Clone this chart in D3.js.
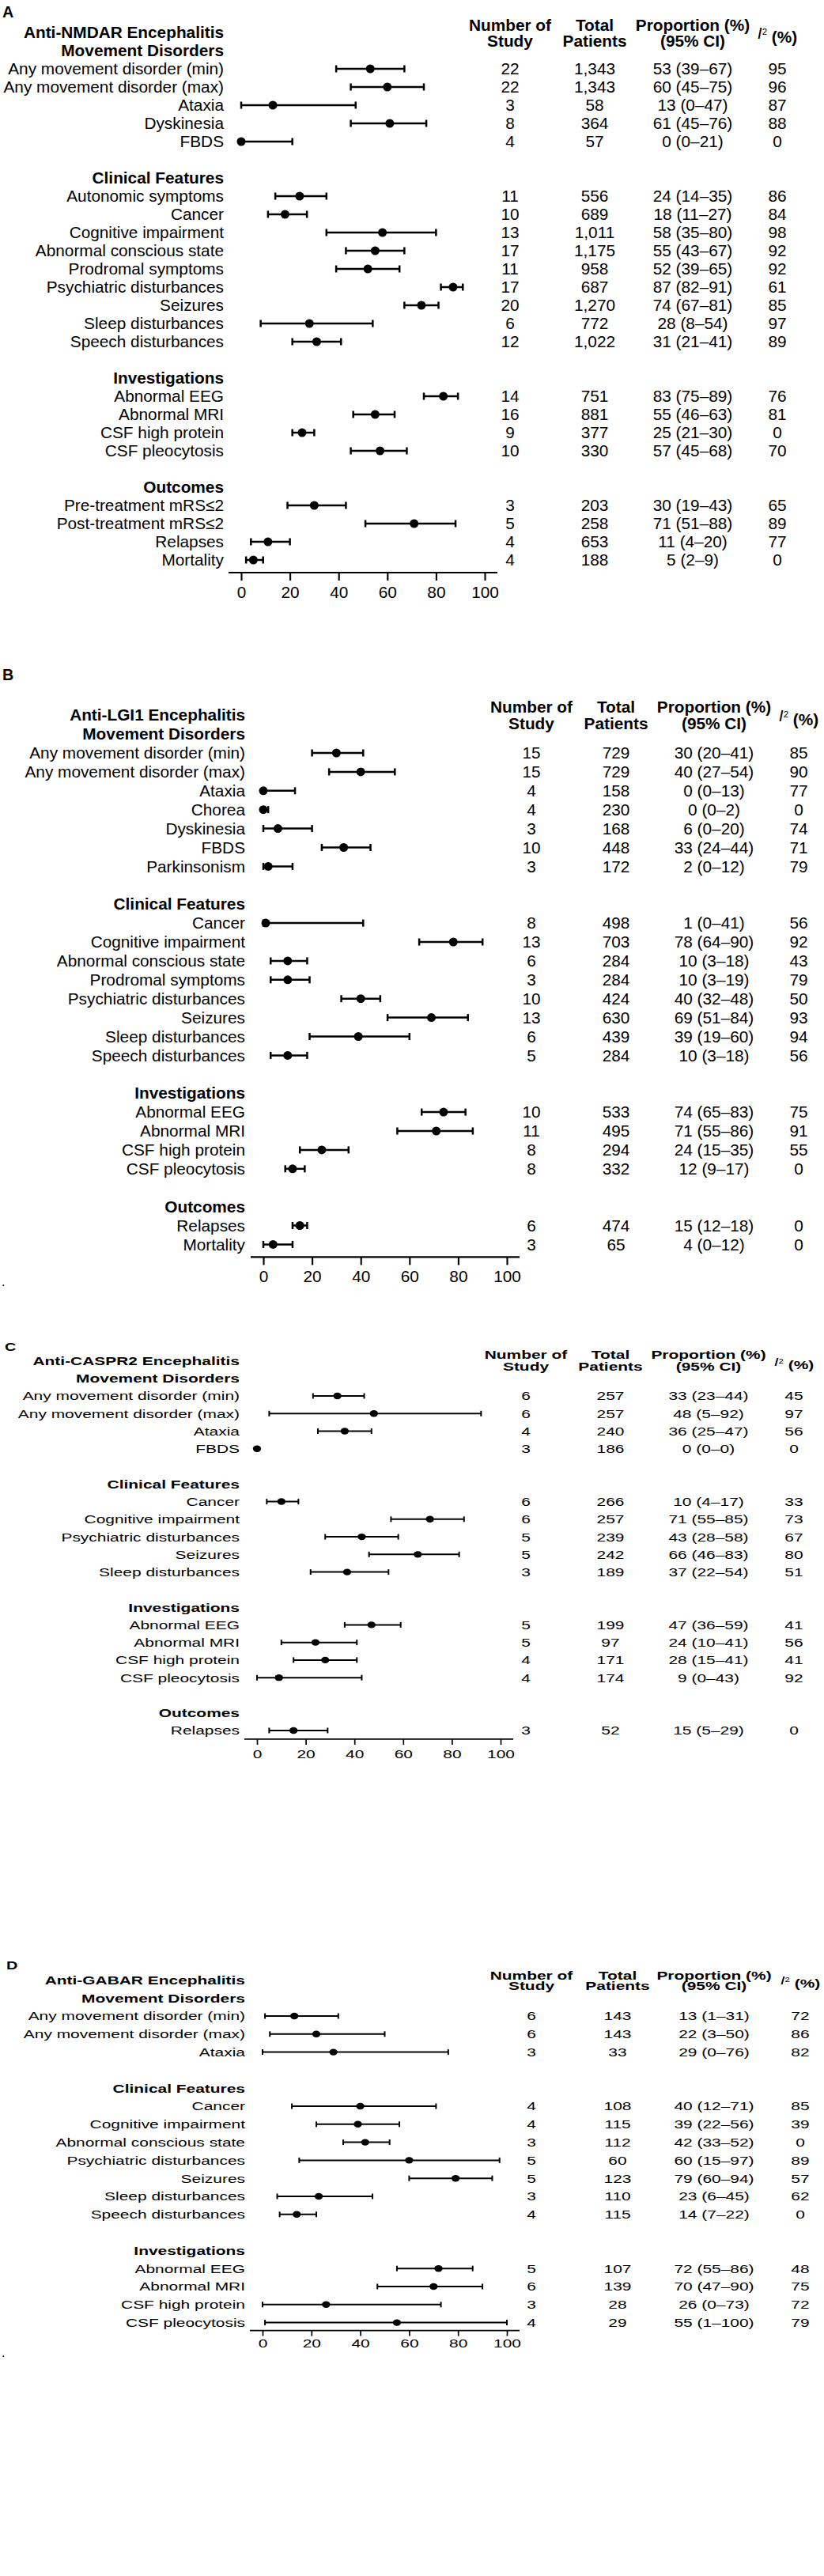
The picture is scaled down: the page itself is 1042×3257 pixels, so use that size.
<!DOCTYPE html>
<meta charset="utf-8">
<head>
    <script type="text/javascript" src="https://cdn.jsdelivr.net/npm/d3@7"></script>
    <style>
        body { margin: 0; background: #fff; }
        text { font-family: "Liberation Sans", Arial, Helvetica, sans-serif; fill: #000; }
        .bold { font-weight: bold; }
    </style>
</head>
<body>
<div id="chart"></div>
<script>
// groups used in every panel (in this order)
var groupNames = ["Movement Disorders", "Clinical Features", "Investigations", "Outcomes"];
var tickValues = [0, 20, 40, 60, 80, 100];

// A - anti-NMDAR
var nmdarSizes = [5, 9, 4, 4];
var nmdarItems = ["Any movement disorder (min)", "Any movement disorder (max)", "Ataxia", "Dyskinesia", "FBDS",
    "Autonomic symptoms", "Cancer", "Cognitive impairment", "Abnormal conscious state", "Prodromal symptoms",
    "Psychiatric disturbances", "Seizures", "Sleep disturbances", "Speech disturbances",
    "Abnormal EEG", "Abnormal MRI", "CSF high protein", "CSF pleocytosis",
    "Pre-treatment mRS\u22642", "Post-treatment mRS\u22642", "Relapses", "Mortality"];
var nmdarStudies = [22, 22, 3, 8, 4, 11, 10, 13, 17, 11, 17, 20, 6, 12, 14, 16, 9, 10, 3, 5, 4, 4];
var nmdarPatients = [1343, 1343, 58, 364, 57, 556, 689, 1011, 1175, 958, 687, 1270, 772, 1022, 751, 881, 377, 330, 203, 258, 653, 188];
var nmdarEst = [53, 60, 13, 61, 0, 24, 18, 58, 55, 52, 87, 74, 28, 31, 83, 55, 25, 57, 30, 71, 11, 5];
var nmdarLo = [39, 45, 0, 45, 0, 14, 11, 35, 43, 39, 82, 67, 8, 21, 75, 46, 21, 45, 19, 51, 4, 2];
var nmdarHi = [67, 75, 47, 76, 21, 35, 27, 80, 67, 65, 91, 81, 54, 41, 89, 63, 30, 68, 43, 88, 20, 9];
var nmdarI2 = [95, 96, 87, 88, 0, 86, 84, 98, 92, 92, 61, 85, 97, 89, 76, 81, 0, 70, 65, 89, 77, 0];

// B - anti-LGI1
var lgi1Sizes = [7, 8, 4, 2];
var lgi1Items = ["Any movement disorder (min)", "Any movement disorder (max)", "Ataxia", "Chorea", "Dyskinesia", "FBDS", "Parkinsonism",
    "Cancer", "Cognitive impairment", "Abnormal conscious state", "Prodromal symptoms", "Psychiatric disturbances",
    "Seizures", "Sleep disturbances", "Speech disturbances",
    "Abnormal EEG", "Abnormal MRI", "CSF high protein", "CSF pleocytosis",
    "Relapses", "Mortality"];
var lgi1Studies = [15, 15, 4, 4, 3, 10, 3, 8, 13, 6, 3, 10, 13, 6, 5, 10, 11, 8, 8, 6, 3];
var lgi1Patients = [729, 729, 158, 230, 168, 448, 172, 498, 703, 284, 284, 424, 630, 439, 284, 533, 495, 294, 332, 474, 65];
var lgi1Est = [30, 40, 0, 0, 6, 33, 2, 1, 78, 10, 10, 40, 69, 39, 10, 74, 71, 24, 12, 15, 4];
var lgi1Lo = [20, 27, 0, 0, 0, 24, 0, 0, 64, 3, 3, 32, 51, 19, 3, 65, 55, 15, 9, 12, 0];
var lgi1Hi = [41, 54, 13, 2, 20, 44, 12, 41, 90, 18, 19, 48, 84, 60, 18, 83, 86, 35, 17, 18, 12];
var lgi1I2 = [85, 90, 77, 0, 74, 71, 79, 56, 92, 43, 79, 50, 93, 94, 56, 75, 91, 55, 0, 0, 0];

// C - anti-CASPR2
var caspr2Sizes = [4, 5, 4, 1];
var caspr2Items = ["Any movement disorder (min)", "Any movement disorder (max)", "Ataxia", "FBDS",
    "Cancer", "Cognitive impairment", "Psychiatric disturbances", "Seizures", "Sleep disturbances",
    "Abnormal EEG", "Abnormal MRI", "CSF high protein", "CSF pleocytosis",
    "Relapses"];
var caspr2Studies = [6, 6, 4, 3, 6, 6, 5, 5, 3, 5, 5, 4, 4, 3];
var caspr2Patients = [257, 257, 240, 186, 266, 257, 239, 242, 189, 199, 97, 171, 174, 52];
var caspr2Est = [33, 48, 36, 0, 10, 71, 43, 66, 37, 47, 24, 28, 9, 15];
var caspr2Lo = [23, 5, 25, 0, 4, 55, 28, 46, 22, 36, 10, 15, 0, 5];
var caspr2Hi = [44, 92, 47, 0, 17, 85, 58, 83, 54, 59, 41, 41, 43, 29];
var caspr2I2 = [45, 97, 56, 0, 33, 73, 67, 80, 51, 41, 56, 41, 92, 0];

// D - anti-GABAR
var gabarSizes = [3, 7, 4];
var gabarItems = ["Any movement disorder (min)", "Any movement disorder (max)", "Ataxia",
    "Cancer", "Cognitive impairment", "Abnormal conscious state", "Psychiatric disturbances",
    "Seizures", "Sleep disturbances", "Speech disturbances",
    "Abnormal EEG", "Abnormal MRI", "CSF high protein", "CSF pleocytosis"];
var gabarStudies = [6, 6, 3, 4, 4, 3, 5, 5, 3, 4, 5, 6, 3, 4];
var gabarPatients = [143, 143, 33, 108, 115, 112, 60, 123, 110, 115, 107, 139, 28, 29];
var gabarEst = [13, 22, 29, 40, 39, 42, 60, 79, 23, 14, 72, 70, 26, 55];
var gabarLo = [1, 3, 0, 12, 22, 33, 15, 60, 6, 7, 55, 47, 0, 1];
var gabarHi = [31, 50, 76, 71, 56, 52, 97, 94, 45, 22, 86, 90, 73, 100];
var gabarI2 = [72, 86, 82, 85, 39, 0, 89, 57, 62, 0, 48, 75, 72, 79];

var W = 1042, H = 3257;
var svg = d3.select("#chart").append("svg")
    .attr("width", W)
    .attr("height", H);

var fmt = d3.format(",");

function buildRows(title, sizes) {
    var rows = [{kind: "title", text: title}];
    var k = 0;
    sizes.forEach(function(n, g) {
        if (g > 0) rows.push({kind: "blank"});
        rows.push({kind: "group", text: groupNames[g]});
        for (var j = 0; j < n; j++) { rows.push({kind: "item", idx: k}); k++; }
    });
    return rows;
}

function drawPanel(cfg, d) {
    var g = svg.append("g");
    var rows = buildRows(d.title, d.sizes);
    var x = d3.scaleLinear().domain([0, 100]).range([cfg.x0, cfg.x100]);
    // row 2 is the first item row (title and group heading sit above it)
    var y = d3.scaleLinear().domain([2, 3]).range([cfg.row0, cfg.row0 + cfg.rh]);

    // panels C and D are horizontally stretched in the original, hence sx
    function txt(px, py, s, anchor, size) {
        return g.append("text")
            .attr("transform", "translate(" + px + "," + py + ") scale(" + cfg.sx + ",1)")
            .attr("text-anchor", anchor)
            .attr("dy", "0.35em")
            .style("font-size", (size || cfg.fs) + "px")
            .text(s);
    }

    // panel letter
    txt(cfg.letterX, cfg.letterY, d.letter, "start", cfg.fs * 0.95).classed("bold", true);

    // column headers
    var h1 = cfg.row0 - cfg.hd1, h2 = cfg.row0 - cfg.hd2;
    txt(cfg.cols[0], h1, "Number of", "middle").classed("bold", true);
    txt(cfg.cols[0], h2, "Study", "middle").classed("bold", true);
    txt(cfg.cols[1], h1, "Total", "middle").classed("bold", true);
    txt(cfg.cols[1], h2, "Patients", "middle").classed("bold", true);
    txt(cfg.cols[2], h1, "Proportion (%)", "middle").classed("bold", true);
    txt(cfg.cols[2], h2, "(95% CI)", "middle").classed("bold", true);
    var i2 = txt(cfg.cols[3], cfg.row0 - cfg.hdI, "", "middle");
    i2.append("tspan").style("font-style", "italic").text("I");
    i2.append("tspan").attr("dy", "-0.45em").style("font-size", (cfg.fs * 0.55) + "px").text("2");
    i2.append("tspan").attr("dy", "0.45em").style("font-weight", "bold").text(" (%)");

    rows.forEach(function(r, i) {
        if (r.kind === "blank") return;
        var yy = y(i);
        if (r.kind !== "item") {
            txt(cfg.labelRight, yy, r.text, "end").classed("bold", true);
            return;
        }
        var k = r.idx;
        txt(cfg.labelRight, yy, d.items[k], "end");

        // error bar with end caps and point estimate
        g.append("line")
            .attr("x1", x(d.lo[k])).attr("x2", x(d.hi[k]))
            .attr("y1", yy).attr("y2", yy)
            .attr("stroke", "#000").attr("stroke-width", cfg.sw);
        [d.lo[k], d.hi[k]].forEach(function(v) {
            g.append("line")
                .attr("x1", x(v)).attr("x2", x(v))
                .attr("y1", yy - cfg.cap).attr("y2", yy + cfg.cap)
                .attr("stroke", "#000").attr("stroke-width", cfg.sw);
        });
        g.append("ellipse")
            .attr("cx", x(d.est[k])).attr("cy", yy)
            .attr("rx", cfg.rx).attr("ry", cfg.ry)
            .attr("fill", "#000");

        txt(cfg.cols[0], yy, d.studies[k], "middle");
        txt(cfg.cols[1], yy, fmt(d.patients[k]), "middle");
        txt(cfg.cols[2], yy, d.est[k] + " (" + d.lo[k] + "\u2013" + d.hi[k] + ")", "middle");
        txt(cfg.cols[3], yy, d.i2[k], "middle");
    });

    // x axis
    var axisY = y(rows.length - 1) + cfg.axisGap;
    var pad = cfg.labelOff - 0.35 * cfg.fs - cfg.tick;
    var ax = g.append("g")
        .attr("transform", "translate(0," + axisY + ")")
        .call(d3.axisBottom(x).tickValues(tickValues).tickSizeInner(cfg.tick).tickSizeOuter(0).tickPadding(pad));
    ax.attr("font-size", cfg.fs).attr("font-family", null);
    ax.select(".domain")
        .attr("d", "M" + (cfg.x0 - 16) + ",0H" + (cfg.x100 + 16))
        .attr("stroke-width", cfg.sw * 0.85);
    ax.selectAll(".tick line").attr("stroke-width", cfg.sw * 0.85);
    ax.selectAll(".tick text").attr("transform", "scale(" + cfg.sx + ",1)").style("fill", "#000");

    if (cfg.dotY) {
        g.append("text").attr("x", 2).attr("y", cfg.dotY).style("font-size", "16px").text(".");
    }
}

drawPanel({row0: 87, rh: 23, labelRight: 283, x0: 305, x100: 613, cols: [645, 752, 876, 983],
        fs: 20.8, sx: 1, letterX: 3, letterY: 15, hd1: 55, hd2: 35, hdI: 45,
        rx: 5.5, ry: 5.5, cap: 4.5, sw: 2.5, axisGap: 16, tick: 10, labelOff: 25},
    {letter: "A", title: "Anti-NMDAR Encephalitis", sizes: nmdarSizes, items: nmdarItems, studies: nmdarStudies,
        patients: nmdarPatients, est: nmdarEst, lo: nmdarLo, hi: nmdarHi, i2: nmdarI2});

drawPanel({row0: 952, rh: 23.9, labelRight: 310, x0: 333, x100: 641, cols: [672, 779, 903, 1010],
        fs: 20.8, sx: 1, letterX: 3, letterY: 853, hd1: 58, hd2: 37, hdI: 47,
        rx: 5.5, ry: 5.5, cap: 4.5, sw: 2.5, axisGap: 16, tick: 10, labelOff: 24, dotY: 1626},
    {letter: "B", title: "Anti-LGI1 Encephalitis", sizes: lgi1Sizes, items: lgi1Items, studies: lgi1Studies,
        patients: lgi1Patients, est: lgi1Est, lo: lgi1Lo, hi: lgi1Hi, i2: lgi1I2});

drawPanel({row0: 1765, rh: 22.26, labelRight: 303, x0: 325, x100: 633, cols: [665, 772, 896, 1004],
        fs: 15.5, sx: 1.35, letterX: 6, letterY: 1703, hd1: 52, hd2: 37, hdI: 43,
        rx: 5.2, ry: 4.2, cap: 3.5, sw: 2, axisGap: 11, tick: 7, labelOff: 18},
    {letter: "C", title: "Anti-CASPR2 Encephalitis", sizes: caspr2Sizes, items: caspr2Items, studies: caspr2Studies,
        patients: caspr2Patients, est: caspr2Est, lo: caspr2Lo, hi: caspr2Hi, i2: caspr2I2});

drawPanel({row0: 2549, rh: 22.8, labelRight: 310, x0: 332, x100: 641, cols: [672, 781, 903, 1012],
        fs: 15.5, sx: 1.35, letterX: 8, letterY: 2485, hd1: 51, hd2: 38, hdI: 45,
        rx: 5.2, ry: 4.2, cap: 3.5, sw: 2, axisGap: 10, tick: 7, labelOff: 16, dotY: 2980},
    {letter: "D", title: "Anti-GABAR Encephalitis", sizes: gabarSizes, items: gabarItems, studies: gabarStudies,
        patients: gabarPatients, est: gabarEst, lo: gabarLo, hi: gabarHi, i2: gabarI2});
</script>
</body>
</html>
